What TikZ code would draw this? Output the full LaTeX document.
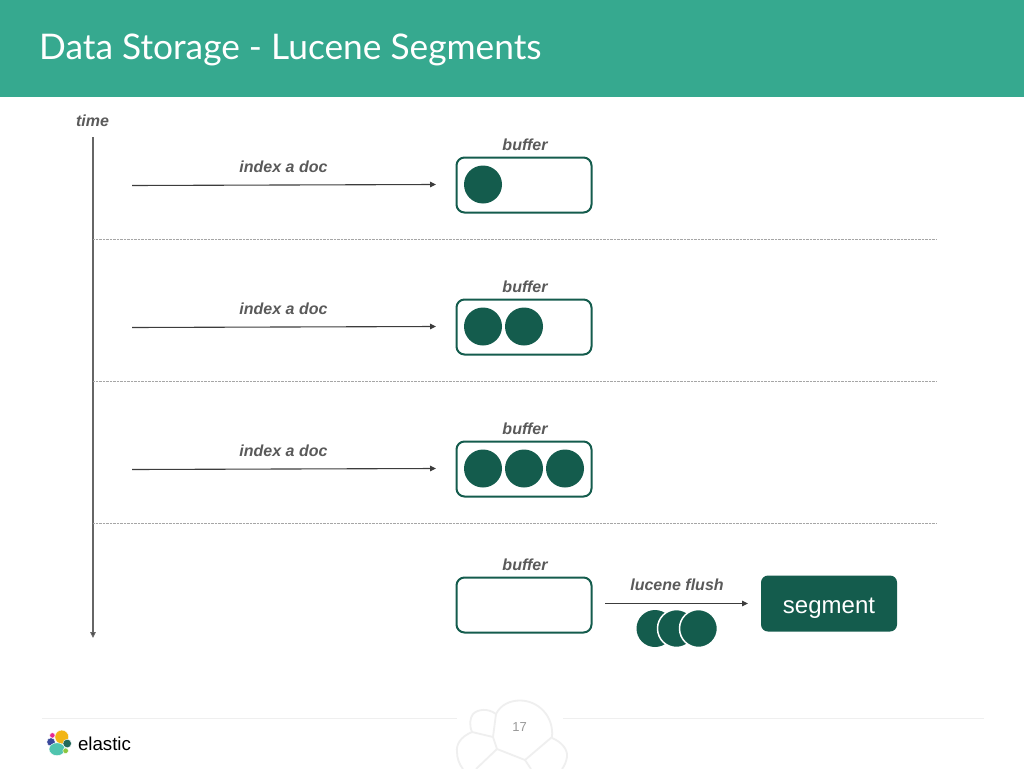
\documentclass[tikz,border=0pt]{standalone}
\usepackage{fontspec}
\setmainfont{Liberation Sans}
\newfontfamily\titlefont{Lato}
\usetikzlibrary{arrows.meta}
\definecolor{band}{HTML}{36A98F}
\definecolor{dk}{HTML}{145C4D}
\definecolor{lbl}{HTML}{5A5A5A}
\definecolor{ln}{HTML}{3C3C3C}
\definecolor{foot}{HTML}{EFEFEF}
\definecolor{lpink}{HTML}{E8288F}
\definecolor{lyellow}{HTML}{F2B514}
\definecolor{lblue}{HTML}{39499C}
\definecolor{lgreen}{HTML}{23695A}
\definecolor{lteal}{HTML}{50C4AE}
\definecolor{llime}{HTML}{8CC63F}
\tikzset{
  x=1pt,y=-1pt,
  bufbox/.style={draw=dk,line width=2pt,rounded corners=8pt,fill=white,minimum width=135pt,minimum height=55pt,inner sep=0pt},
  doc/.style={circle,fill=dk,minimum size=38pt,inner sep=0pt},
  docw/.style={circle,fill=dk,draw=white,line width=1.5pt,minimum size=38pt,inner sep=0pt},
  lab/.style={font=\fontsize{16}{18}\selectfont\bfseries\itshape,text=lbl,inner sep=0pt},
  arr/.style={draw=ln,line width=1.1pt,-{Triangle[length=6pt,width=5.5pt]}},
  axisline/.style={draw=black!60,line width=1.1pt,-{Triangle[length=6pt,width=5.5pt,fill=ln]}},
  sep/.style={draw=black!35,line width=0.7pt,dash pattern=on 0.7pt off 0.7pt},
  footl/.style={draw=foot,line width=1.5pt},
  cell/.style={draw=foot,line width=1.8pt,line join=round},
  logocell/.style={draw=white,line width=0.4pt}
}
\begin{document}
\begin{tikzpicture}
\useasboundingbox (0,0) rectangle (1024,768);
\fill[white] (0,0) rectangle (1024,768);
\fill[band] (0,0) rectangle (1024,96.5);
\node[anchor=west,inner sep=0pt,text=white] (title) at (39,50) {\titlefont\fontsize{35.3}{38}\selectfont Data Storage - Lucene Segments};
% time axis
\node[lab] (timel) at (92.5,121) {time};
\coordinate (t0) at (93,137);
\coordinate (t1) at (93,638);
\draw[axisline] (t0) -- (t1);
% separators
\foreach \i/\y in {a/239.5,b/381.5,c/523.5}{
  \coordinate (s\i0) at (93,\y);
  \coordinate (s\i1) at (936,\y);
  \draw[sep] (s\i0) -- (s\i1);
}
% rows
\foreach \i/\y in {a/185,b/327,c/469}{
  \node[bufbox] (b\i) at (524,\y) {};
  \node[lab] (bl\i) at (525,\y-40.5) {buffer};
  \node[lab] (il\i) at (283.5,\y-18) {index a doc};
  \coordinate (p\i) at (132,\y+0.5);
  \coordinate (q\i) at (436,\y-0.5);
  \draw[arr] (p\i) -- (q\i);
}
\node[doc] (d1) at (483,184.5) {};
\node[doc] (d2) at (483,326.5) {};
\node[doc] (d3) at (524,326.5) {};
\node[doc] (d4) at (483,468.5) {};
\node[doc] (d5) at (524,468.5) {};
\node[doc] (d6) at (565,468.5) {};
% flush row
\node[bufbox] (bd) at (524,605) {};
\node[lab] (bld) at (525,564.5) {buffer};
\node[lab] (ll) at (677,585) {lucene flush};
\node[fill=dk,rounded corners=7pt,minimum width=136pt,minimum height=56pt,inner sep=0pt,text=white,text height=20pt,text depth=0pt,font=\fontsize{24}{26}\selectfont] (seg) at (829,603.5) {segment};
\coordinate (f0) at (605,603.5);
\coordinate (f9) at (748,603.5);
\draw[arr] (f0) -- (f9);
\node[doc,minimum size=37pt] (f1) at (655,628.5) {};
\node[docw] (f2) at (676.5,628.5) {};
\node[docw] (f3) at (698.5,628.5) {};
% footer
\coordinate (fa) at (42,718.5);
\coordinate (fb) at (457,718.5);
\coordinate (fc) at (563,718.5);
\coordinate (fd) at (984,718.5);
\draw[footl] (fa) -- (fb);
\draw[footl] (fc) -- (fd);
\begin{scope}
\clip (440,695) rectangle (580,768);
\draw[cell] (496,714) .. controls (501,704) and (511,700.5) .. (520,700.5)
  .. controls (538,700.5) and (554,716) .. (552,737)
  -- (525,760) -- (497,749) -- (493,737) -- cycle;
\draw[cell] (496,714) .. controls (488,708) and (478,709) .. (473,714)
  .. controls (470,718) and (469,725) .. (472,732) -- (493,737);
\draw[cell] (472,732) .. controls (460,737) and (456,745) .. (457,752)
  .. controls (457,758) and (459,764) .. (463,769);
\draw[cell] (497,749) -- (476,769);
\draw[cell] (552,738) .. controls (562,742) and (568,750) .. (567,757)
  .. controls (566,762) and (565,765) .. (562,769);
\draw[cell] (525,760) -- (531,769);
\end{scope}
\node[inner sep=0pt,text=black!40,font=\fontsize{13}{15}\selectfont] (pg) at (519.5,727) {17};
% logo
\fill[lpink,logocell] (52.4,735.4) circle (2.7);
\fill[lyellow,logocell] (61.8,737) circle (6.9);
\fill[lblue,logocell] (51,742) circle (4.2);
\fill[lgreen,logocell] (67.2,743.5) circle (4.3);
\fill[lteal,logocell] (57,749.2) ellipse (8 and 6.4);
\fill[llime,logocell] (65.6,750.8) circle (2.8);
\node[anchor=west,inner sep=0pt,text=black,font=\fontsize{18.7}{21}\selectfont] (brand) at (77.8,743.5) {elastic};
\end{tikzpicture}
\end{document}
